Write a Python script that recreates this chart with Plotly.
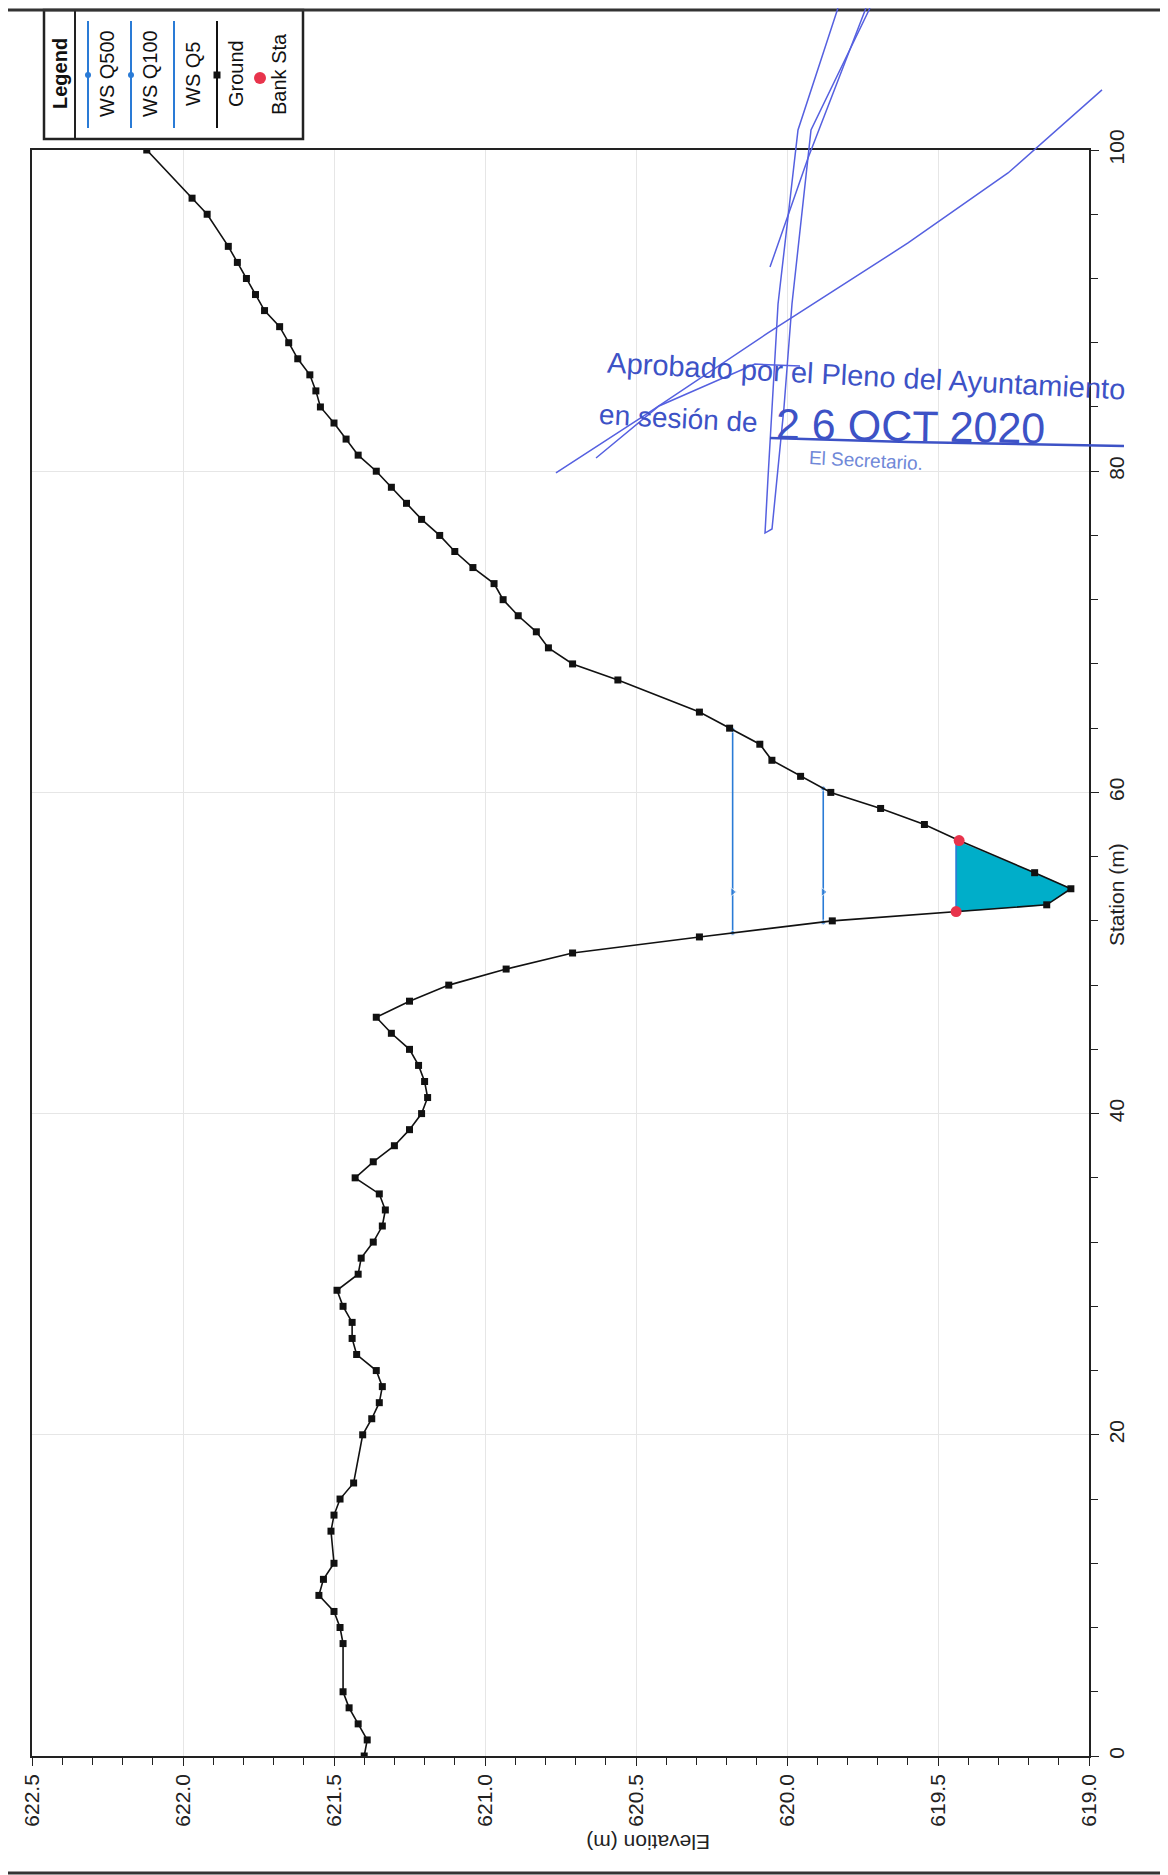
import plotly.graph_objects as go

# ---------------- data ----------------
ground_station = [0, 1, 2, 3, 4, 7, 8, 9, 10, 11, 12, 14, 15, 16, 17, 20, 21, 22, 23, 24,
                  25, 26, 27, 28, 29, 30, 31, 32, 33, 34, 35, 36, 37, 38, 39, 40, 41, 42, 43, 44,
                  45, 46, 47, 48, 49, 50, 51, 52, 53, 54, 55, 57, 58, 59, 60, 61, 62, 63, 64, 65,
                  67, 68, 69, 70, 71, 72, 73, 74, 75, 76, 77, 78, 79, 80, 81, 82, 83, 84, 85, 86,
                  87, 88, 89, 90, 91, 92, 93, 94, 96, 97, 100]
ground_elev = [621.40, 621.39, 621.42, 621.45, 621.47, 621.47, 621.48, 621.50, 621.55, 621.535,
               621.50, 621.51, 621.50, 621.48, 621.435, 621.405, 621.375, 621.35, 621.34, 621.36,
               621.425, 621.44, 621.44, 621.47, 621.49, 621.42, 621.41, 621.37, 621.34, 621.33,
               621.35, 621.43, 621.37, 621.30, 621.25, 621.21, 621.19, 621.20, 621.22, 621.25,
               621.31, 621.36, 621.25, 621.12, 620.93, 620.71, 620.29, 619.85, 619.14, 619.06,
               619.18, 619.43, 619.545, 619.69, 619.855, 619.955, 620.05, 620.09, 620.19, 620.29,
               620.56, 620.71, 620.79, 620.83, 620.89, 620.94, 620.97, 621.04, 621.10, 621.15,
               621.21, 621.26, 621.31, 621.36, 621.42, 621.46, 621.50, 621.545, 621.56, 621.58,
               621.62, 621.65, 621.68, 621.73, 621.76, 621.79, 621.82, 621.85, 621.92, 621.97,
               622.12]

ws_q500_elev = 620.18
ws_q500_station = [51.25, 53.8, 63.9]
ws_q100_elev = 619.88
ws_q100_station = [51.9, 53.8, 60.25]
ws_q5_elev = 619.44
bank_station = [52.58, 57.0]
bank_elev = [619.44, 619.43]

legend_names = ["WS Q500", "WS Q100", "WS Q5", "Ground", "Bank Sta"]

# ---------------- styles ----------------
FONT = "Arial, Liberation Sans, sans-serif"
WS_COLOR = "#2A7BD6"
FILL_COLOR = "#00AEC9"
BANK_COLOR = "#E8344C"
STAMP = "#3D52C6"

W, H = 1168, 1875
L, R, T, B = 24, 1081, 142, 1748


def px(x):
    return (x - L) / (R - L)


def py(y):
    return (B - y) / (B - T)


fig = go.Figure()

# Q5 water fill (between bank stations, down to ground)
inner = [(s, e) for s, e in zip(ground_station, ground_elev) if bank_station[0] < s < bank_station[1]]
poly_y = [bank_station[0]] + [s for s, _ in inner] + [bank_station[1], bank_station[0]]
poly_x = [ws_q5_elev] + [e for _, e in inner] + [ws_q5_elev, ws_q5_elev]
fig.add_trace(go.Scatter(x=poly_x, y=poly_y, fill="toself", fillcolor=FILL_COLOR,
                         mode="lines", line=dict(color=FILL_COLOR, width=0.5),
                         showlegend=False, hoverinfo="skip"))

# WS lines
for elev, stas in [(ws_q500_elev, ws_q500_station), (ws_q100_elev, ws_q100_station)]:
    fig.add_trace(go.Scatter(x=[elev] * len(stas), y=stas, mode="lines+markers",
                             line=dict(color=WS_COLOR, width=1.6),
                             marker=dict(color=WS_COLOR, size=[5, 8, 5],
                                         symbol=["circle", "triangle-right", "circle"]),
                             showlegend=False))
fig.add_trace(go.Scatter(x=[ws_q5_elev, ws_q5_elev], y=bank_station, mode="lines",
                         line=dict(color=WS_COLOR, width=1.6), showlegend=False))

# Ground
fig.add_trace(go.Scatter(x=ground_elev, y=ground_station, mode="lines+markers",
                         line=dict(color="#111111", width=1.6),
                         marker=dict(color="#111111", size=7, symbol="square"),
                         showlegend=False))

# Bank stations
fig.add_trace(go.Scatter(x=bank_elev, y=bank_station, mode="markers",
                         marker=dict(color=BANK_COLOR, size=11, symbol="circle"),
                         showlegend=False))

shapes = []
annotations = []


def ann(text, x, y, angle, size, color="#111", bold=False):
    annotations.append(dict(text=f"<b>{text}</b>" if bold else text, x=px(x), y=py(y),
                            xref="paper", yref="paper", xanchor="center", yanchor="middle",
                            textangle=angle, showarrow=False,
                            font=dict(family=FONT, size=size, color=color)))


# ---------------- manual (rotated) legend ----------------
shapes.append(dict(type="rect", xref="paper", yref="paper", x0=px(36), x1=px(295), y0=py(131), y1=py(2),
                   line=dict(color="#222", width=2.5), fillcolor="white", layer="above"))
shapes.append(dict(type="line", xref="paper", yref="paper", x0=px(67), x1=px(67), y0=py(131), y1=py(2),
                   line=dict(color="#222", width=2), layer="above"))
ann("Legend", 52, 66, -90, 20, bold=True)
leg_x = [80, 123, 166, 209, 252]
leg_colors = [WS_COLOR, WS_COLOR, WS_COLOR, "#111111", BANK_COLOR]
for i, name in enumerate(legend_names):
    lx = leg_x[i]
    if i < 4:
        shapes.append(dict(type="line", xref="paper", yref="paper", x0=px(lx), x1=px(lx),
                           y0=py(120), y1=py(13), line=dict(color=leg_colors[i], width=2), layer="above"))
    if i in (0, 1):
        shapes.append(dict(type="circle", xref="paper", yref="paper", x0=px(lx - 3), x1=px(lx + 3),
                           y0=py(70), y1=py(64), fillcolor=WS_COLOR, line=dict(width=0), layer="above"))
    if i == 3:
        shapes.append(dict(type="rect", xref="paper", yref="paper", x0=px(lx - 3.5), x1=px(lx + 3.5),
                           y0=py(70.5), y1=py(63.5), fillcolor="#111", line=dict(width=0), layer="above"))
    if i == 4:
        shapes.append(dict(type="circle", xref="paper", yref="paper", x0=px(lx - 6), x1=px(lx + 6),
                           y0=py(76), y1=py(64), fillcolor=BANK_COLOR, line=dict(width=0), layer="above"))
    ann(name, lx + 19, 66, -90, 20)

# ---------------- axis titles (rotated page) ----------------
ann("Elevation (m)", 640, 1835, 180, 21, color="#222")
ann("Station (m)", 1108, 887, -90, 21, color="#222")

# ---------------- page frame ----------------
for x0, y0, x1, y1 in [(0, 2, 1160, 2), (1160, 2, 1160, 1865), (0, 1865, 1160, 1865)]:
    shapes.append(dict(type="line", xref="paper", yref="paper", x0=px(x0), y0=py(y0), x1=px(x1), y1=py(y1),
                       line=dict(color="#333", width=3)))

# ---------------- approval stamp (scanned annotation) ----------------
ann("Aprobado por el Pleno del Ayuntamiento", 858, 368, 3, 29, color=STAMP)
ann("en sesión de", 670, 410, 3, 28, color=STAMP)
ann("2 6 OCT 2020", 902, 418, 1, 43, color=STAMP)
ann("El Secretario.", 858, 452, 3, 19, color="#7088D8")


def path_of(pts):
    return "M " + " L ".join(f"{px(x):.4f},{py(y):.4f}" for x, y in pts)


sig_strokes = [
    [(548, 465), (640, 405), (760, 325), (900, 235), (1000, 165), (1094, 82)],
    [(588, 450), (651, 398), (747, 356), (792, 358)],
    [(830, 0), (790, 122), (770, 296), (760, 470), (757, 525), (764, 521), (776, 400), (784, 296), (803, 122), (862, 0)],
    [(762, 259), (800, 150), (858, 0)],
    [(762, 430), (900, 434), (1116, 438)],
]
for k, st in enumerate(sig_strokes):
    shapes.append(dict(type="path", xref="paper", yref="paper", path=path_of(st),
                       line=dict(color="#5560E0" if k < 4 else STAMP, width=1.5 if k < 4 else 2.5),
                       layer="above"))

fig.update_layout(
    width=W, height=H,
    margin=dict(l=L, r=W - R, t=T, b=H - B, pad=0),
    paper_bgcolor="white", plot_bgcolor="white",
    showlegend=False,
    shapes=shapes, annotations=annotations,
    font=dict(family=FONT, size=20, color="#222"),
)
fig.update_xaxes(range=[622.5, 619.0], dtick=0.5, tick0=619.0, tickformat=".1f",
                 showgrid=True, gridcolor="#E6E6E6", gridwidth=1,
                 ticks="outside", ticklen=8, tickcolor="#222", tickangle=-90,
                 showline=True, linecolor="#222", linewidth=1.5, mirror=True,
                 zeroline=False,
                 minor=dict(dtick=0.1, ticks="outside", ticklen=7, tickcolor="#222", showgrid=False),
                 tickfont=dict(family=FONT, size=21, color="#222"))
fig.update_yaxes(range=[0, 100], dtick=20, side="right",
                 showgrid=True, gridcolor="#E6E6E6", gridwidth=1,
                 ticks="outside", ticklen=8, tickcolor="#222", tickangle=-90,
                 showline=True, linecolor="#222", linewidth=1.5, mirror=True,
                 zeroline=False,
                 minor=dict(dtick=4, ticks="outside", ticklen=7, tickcolor="#222", showgrid=False),
                 tickfont=dict(family=FONT, size=21, color="#222"))

fig.write_html("out.html")
